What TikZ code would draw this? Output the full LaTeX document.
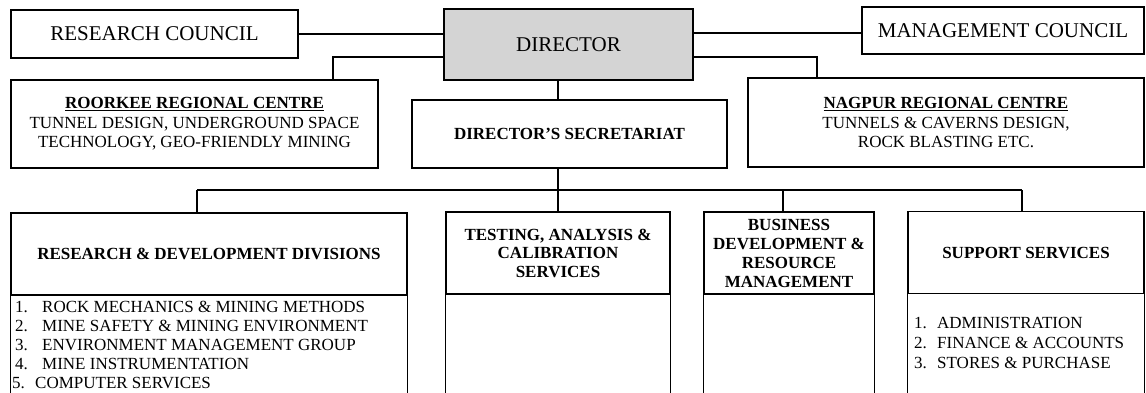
\documentclass[tikz,border=0pt]{standalone}
\usepackage{fontspec}
\setmainfont{Liberation Serif}
\begin{document}
\begin{tikzpicture}[x=1pt,y=-1pt,
  box/.style={draw, line width=1.3pt, inner sep=0pt, align=center},
  big/.style={font=\fontsize{21}{24}\selectfont},
  med/.style={font=\fontsize{17}{19.5}\selectfont},
  medb/.style={font=\fontsize{17}{18.5}\selectfont\bfseries},
  item/.style={font=\fontsize{17}{19}\selectfont, anchor=base west, inner sep=0pt},
  wire/.style={line width=1.3pt}]
\useasboundingbox (0,0) rectangle (1146,392);

% top row
\node[box,big,minimum width=287pt,minimum height=48pt] (rc) at (154.5,34) {RESEARCH COUNCIL};
\node[box,big,fill=black!17,minimum width=249pt,minimum height=71pt] (dir) at (568.5,44.5) {DIRECTOR};
\node[box,big,minimum width=282pt,minimum height=47pt] (mc) at (1003,30.5) {MANAGEMENT COUNCIL};

% regional centres and secretariat
\node[box,med,minimum width=367pt,minimum height=88pt] (rr) at (194.5,124)
  {\textbf{\underline{ROORKEE REGIONAL CENTRE}}\\TUNNEL DESIGN, UNDERGROUND SPACE\\TECHNOLOGY, GEO-FRIENDLY MINING};
\node[box,medb,minimum width=315pt,minimum height=68pt] (sec) at (569.5,134) {DIRECTOR'S SECRETARIAT};
\node[box,med,minimum width=396pt,minimum height=89pt] (np) at (946,122.5)
  {\textbf{\underline{NAGPUR REGIONAL CENTRE}}\\TUNNELS \& CAVERNS DESIGN,\\ROCK BLASTING ETC.};

% division headers
\node[box,medb,minimum width=396pt,minimum height=82pt] (rd) at (209,254) {RESEARCH \& DEVELOPMENT DIVISIONS};
\node[box,medb,minimum width=224pt,minimum height=82pt] (tst) at (558,253) {TESTING, ANALYSIS \&\\CALIBRATION\\SERVICES};
\node[box,font=\fontsize{17}{19}\selectfont\bfseries,minimum width=170pt,minimum height=82pt] (biz) at (789,253)
  {BUSINESS\\DEVELOPMENT \&\\RESOURCE\\MANAGEMENT};
\node[box,medb,minimum width=236pt,minimum height=82pt] (sup) at (1026,252.5) {SUPPORT SERVICES};

% open lower bodies of the division columns
\foreach \n in {rd,tst,biz,sup}{
  \draw[wire] (\n.south west) -- (\n.south west |- 0,396);
  \draw[wire] (\n.south east) -- (\n.south east |- 0,396);
}

% division lists
\node[item] (rd1) at (15,312) {\makebox[27pt][l]{1.}ROCK MECHANICS \& MINING METHODS};
\node[item] (rd2) at (15,331) {\makebox[27pt][l]{2.}MINE SAFETY \& MINING ENVIRONMENT};
\node[item] (rd3) at (15,350) {\makebox[27pt][l]{3.}ENVIRONMENT MANAGEMENT GROUP};
\node[item] (rd4) at (15,369) {\makebox[27pt][l]{4.}MINE INSTRUMENTATION};
\node[item] (rd5) at (12,388) {\makebox[23pt][l]{5.}COMPUTER SERVICES};

\node[item] (sp1) at (914,328) {\makebox[23pt][l]{1.}ADMINISTRATION};
\node[item] (sp2) at (914,348) {\makebox[23pt][l]{2.}FINANCE \& ACCOUNTS};
\node[item] (sp3) at (914,368) {\makebox[23pt][l]{3.}STORES \& PURCHASE};

% connectors
\draw[wire] (rc.east) -- (rc.east -| dir.west);
\draw[wire] (dir.east |- 0,33) -- (mc.west |- 0,33);
\draw[wire] (dir.west |- 0,57) -| (rr.north -| 333,0);
\draw[wire] (dir.east |- 0,57) -| (np.north -| 817,0);
\draw[wire] (dir.south -| 558,0) -- (sec.north -| 558,0);

\coordinate (busL) at (197,190);
\coordinate (busM) at (558,190);
\coordinate (busR) at (1022,190);
\draw[wire] (sec.south -| busM) -- (busM);
\draw[wire] (busL) -- (busR);
\draw[wire] (busL) -- (busL |- rd.north);
\draw[wire] (busM) -- (tst.north);
\draw[wire] (783,190) -- (biz.north -| 783,0);
\draw[wire] (busR) -- (busR |- sup.north);
\end{tikzpicture}
\end{document}
